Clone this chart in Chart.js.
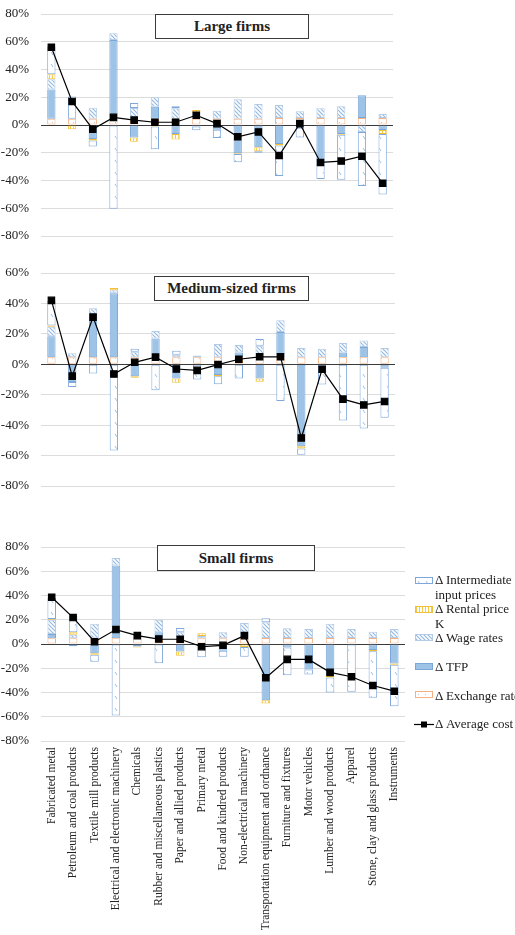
<!DOCTYPE html>
<html>
<head>
<meta charset="utf-8">
<script src="https://cdn.jsdelivr.net/npm/chart.js@4/dist/chart.umd.min.js"></script>
<style>
body { margin: 0; width: 515px; height: 935px; overflow: hidden; background: #fff; position: relative;
       font-family: 'Liberation Serif', 'Times New Roman', serif; color: #222; }
canvas.panel { position: absolute; left: 0; }
.title { position: absolute; border: 1px solid #3a3a3a; background: #fff; box-sizing: border-box;
         font-weight: bold; font-size: 15px; text-align: center; }
.lg-sw { position: absolute; left: 415px; }
.lg-tx { position: absolute; left: 435px; font-size: 13px; line-height: 15px; white-space: nowrap; }
</style>
</head>
<body>
<canvas id="large" class="panel" width="515" height="250" style="top:0px"></canvas>
<canvas id="medium" class="panel" width="515" height="250" style="top:250px"></canvas>
<canvas id="small" class="panel" width="515" height="435" style="top:500px"></canvas>

<div class="title" style="left:155px;top:14px;width:154px;height:25px;line-height:23px">Large firms</div>
<div class="title" style="left:154px;top:276px;width:155px;height:25px;line-height:23px">Medium-sized firms</div>
<div class="title" style="left:157px;top:545px;width:158px;height:26px;line-height:24px">Small firms</div>

<canvas id="sw_interm" class="lg-sw" width="18" height="7" style="top:577px"></canvas>
<div class="lg-tx" style="top:572px">Δ Intermediate<br>input prices</div>
<canvas id="sw_rental" class="lg-sw" width="18" height="7" style="top:606px"></canvas>
<div class="lg-tx" style="top:601px">Δ Rental price<br>K</div>
<canvas id="sw_wage" class="lg-sw" width="18" height="7" style="top:634px"></canvas>
<div class="lg-tx" style="top:630px">Δ Wage rates</div>
<canvas id="sw_tfp" class="lg-sw" width="18" height="7" style="top:663px"></canvas>
<div class="lg-tx" style="top:659px">Δ TFP</div>
<canvas id="sw_exch" class="lg-sw" width="18" height="7" style="top:691px"></canvas>
<div class="lg-tx" style="top:688px">Δ Exchange rate</div>
<canvas id="sw_avg" class="lg-sw" width="20" height="9" style="top:720px;left:414px"></canvas>
<div class="lg-tx" style="top:716px">Δ Average cost</div>

<script>
var industries = ['Fabricated metal', 'Petroleum and coal products', 'Textile mill products',
    'Electrical and electronic machinery', 'Chemicals', 'Rubber and miscellaneous plastics',
    'Paper and allied products', 'Primary metal', 'Food and kindred products',
    'Non-electrical machinery', 'Transportation equipment and ordnance', 'Furniture and fixtures',
    'Motor vehicles', 'Lumber and wood products', 'Apparel', 'Stone, clay and glass products',
    'Instruments'];

// large firms (% change)
var large_exch   = [4.5, 4.5, 4.5, 4.5, 4.5, 4.5, 4.5, 4.5, 4.5, 4.5, 4.5, 5, 5, 5, 5, 5, 5];
var large_tfp    = [21, 0, -10, 56.7, -9, 8.7, -6.5, -1, -3.5, -20.4, -16, -13.7, -2, -28, -6.5, 16.5, -3.6];
var large_wage   = [7.5, 0, 8, 5, 7.7, 6.8, 7.5, 4, 5.8, 14, 10.6, 9.4, 5, 7, 8.6, -5, 3];
var large_rental = [3.5, -3, -1.2, 0, -3, -1, -4, 2.3, 0, -0.5, -3, -1, 0, 0, -0.5, 0, -2.9];
var large_interm = [20, 16, -4.3, -60.4, 3.6, -16.5, 1.5, -2.8, -5.8, -6, -1, -22, -7, -11, -32.5, -39, -43.6];
var large_avg    = [56, 17, -3, 5.5, 3.5, 2, 2, 7, 1, -8.5, -5, -22, 1, -27, -26, -22.5, -42];

// medium-sized firms
var medium_exch   = [4.7, 4.7, 4.7, 4.7, 4.7, 4.7, 4.7, 4.7, 4.7, 4.7, 4.7, 4.7, 4.7, 4.7, 4.7, 4.7, 4.7];
var medium_tfp    = [13.7, -11.6, 28.2, 42, -7.8, 12.2, -9.3, 0, -7.1, 3, -9.3, 16.6, -53.8, 0, 3.1, 6.7, -2.2];
var medium_wage   = [6.3, 2.6, 4, 2, 3.5, 4.9, 1.5, 1.1, 8.6, 4.9, 7.5, 7.6, 6, 5.5, 6.2, 4.2, 6];
var medium_rental = [0.8, 0, 0, 1.5, -1.1, 0, -2.9, 0, -0.7, 0, -2.2, 0, -1.6, 0, 0, 0, 0];
var medium_interm = [16.3, -3.3, -6, -56.6, 2, -17.1, 2.7, -10, -5.3, -9.3, 4.5, -24.2, -4, -13.3, -36.9, -42.2, -33];
var medium_avg    = [42, -7.8, 31, -6.4, 1.3, 4.7, -3.1, -4, -0.2, 3.3, 4.9, 4.9, -48.4, -3.3, -22.9, -26.7, -24.4];

// small firms
var small_exch   = [4.7, 4.7, 4.7, 4.7, 4.7, 4.7, 4.7, 4.7, 4.7, 4.7, 5, 5, 5, 5, 5, 5, 5];
var small_tfp    = [3.6, -1.8, -7.7, 60.1, -2, 5, -6.1, -1, -5.5, 0, -46.3, -2.8, -21, -26.2, 0, -5, -16];
var small_wage   = [11.8, 3, 11.9, 6.1, 5, 10.2, 5.5, 2, 5, 12.7, 12.9, 8, 7.4, 11.6, 7.4, 5.2, 7.4];
var small_rental = [0.5, 2, -1.1, 0, -0.8, 0, -3.5, 2.1, 0, -2.5, -2.8, 0, 0, -1.4, 0, -1, -1.1];
var small_interm = [17.4, 13.9, -5.9, -59, 0, -15.8, 3, -10, -5, -8, 3.3, -22.9, -4.1, -12.4, -39.4, -38.4, -34.2];
var small_avg    = [38.6, 21.8, 1.9, 11.9, 6.9, 4.1, 3.9, -2.2, -1.1, 6.9, -27.9, -12.7, -12.7, -23.4, -27, -34.2, -38.9];

var serif = "'Liberation Serif', 'Times New Roman', serif";

function makePattern(w, h, draw) {
    var c = document.createElement('canvas');
    c.width = w;
    c.height = h;
    var g = c.getContext('2d');
    g.fillStyle = '#ffffff';
    g.fillRect(0, 0, w, h);
    draw(g);
    return g.createPattern(c, 'repeat');
}

var wagePattern = makePattern(4, 4, function (g) {
    g.strokeStyle = '#93b9e2';
    g.lineWidth = 1.2;
    g.beginPath();
    g.moveTo(0, 0); g.lineTo(4, 4);
    g.moveTo(-2, 2); g.lineTo(2, 6);
    g.moveTo(2, -2); g.lineTo(6, 2);
    g.stroke();
});
var intermPattern = makePattern(8, 12, function (g) {
    g.strokeStyle = '#9dc3e6';
    g.lineWidth = 1;
    g.beginPath();
    g.moveTo(3, 4); g.lineTo(5, 7);
    g.stroke();
});
var rentalPattern = makePattern(3, 3, function (g) {
    g.fillStyle = '#f5c842';
    g.fillRect(1, 0, 1, 3);
});
var exchPattern = makePattern(7, 7, function (g) {
    g.fillStyle = '#c8c8c8';
    g.fillRect(3, 3, 1, 1);
});

var styles = {
    exch:   { fill: exchPattern,   border: '#f4b183', label: 'Δ Exchange rate' },
    tfp:    { fill: '#9dc3e6',     border: '#7aa6d8', label: 'Δ TFP' },
    wage:   { fill: wagePattern,   border: '#b4cbe6', label: 'Δ Wage rates' },
    rental: { fill: rentalPattern, border: '#f2c037', label: 'Δ Rental price K' },
    interm: { fill: intermPattern, border: '#7ea7dc', label: 'Δ Intermediate input prices' }
};

function barSet(key, values) {
    return {
        type: 'bar',
        label: styles[key].label,
        data: values,
        backgroundColor: styles[key].fill,
        borderColor: styles[key].border,
        borderWidth: 1,
        borderSkipped: false,
        categoryPercentage: 0.4,
        barPercentage: 1
    };
}

function createChart(id, series, yMin, yMax, padTop, padRight, padBottom, showLabels) {
    var ctx = document.getElementById(id).getContext('2d');
    var xScale = {
        display: showLabels,
        stacked: true,
        grid: { display: false, drawTicks: false },
        border: { display: false },
        ticks: {
            autoSkip: false,
            maxRotation: 90,
            minRotation: 90,
            padding: 6,
            color: '#222',
            font: { family: serif, size: 11.5 }
        }
    };
    if (showLabels) {
        xScale.afterFit = function (scale) { scale.height = 194; };
    }
    return new Chart(ctx, {
        data: {
            labels: industries,
            datasets: [
                barSet('exch', series.exch),
                barSet('tfp', series.tfp),
                barSet('wage', series.wage),
                barSet('rental', series.rental),
                barSet('interm', series.interm),
                {
                    type: 'line',
                    label: 'Δ Average cost',
                    data: series.avg,
                    stack: 'avg',
                    order: -1,
                    borderColor: '#000000',
                    borderWidth: 1.2,
                    pointStyle: 'rect',
                    pointRadius: 4.5,
                    pointBackgroundColor: '#000000',
                    pointBorderColor: '#000000',
                    tension: 0
                }
            ]
        },
        options: {
            responsive: false,
            animation: false,
            events: [],
            layout: { padding: { top: padTop, right: padRight, bottom: padBottom, left: 0 } },
            scales: {
                x: xScale,
                y: {
                    stacked: true,
                    min: yMin,
                    max: yMax,
                    grid: {
                        drawTicks: true,
                        tickLength: 12,
                        tickColor: 'rgba(0,0,0,0)',
                        color: function (c) { return c.tick.value === 0 ? '#3a3a3a' : '#dcdcdc'; }
                    },
                    border: { display: false },
                    ticks: {
                        stepSize: 20,
                        padding: 0,
                        color: '#222',
                        font: { family: serif, size: 13 },
                        callback: function (v) { return v + '%'; }
                    },
                    afterFit: function (scale) { scale.width = 41; }
                }
            },
            plugins: {
                legend: { display: false },
                tooltip: { enabled: false }
            }
        }
    });
}

createChart('large', { exch: large_exch, tfp: large_tfp, wage: large_wage, rental: large_rental,
    interm: large_interm, avg: large_avg }, -80, 80, 14, 122, 14, false);
createChart('medium', { exch: medium_exch, tfp: medium_tfp, wage: medium_wage, rental: medium_rental,
    interm: medium_interm, avg: medium_avg }, -80, 60, 23, 120, 14, false);
createChart('small', { exch: small_exch, tfp: small_tfp, wage: small_wage, rental: small_rental,
    interm: small_interm, avg: small_avg }, -80, 80, 47, 110, 0, true);

// legend swatches
function swatch(id, key) {
    var g = document.getElementById(id).getContext('2d');
    g.fillStyle = styles[key].fill;
    g.fillRect(0, 0, 18, 7);
    g.strokeStyle = styles[key].border;
    g.lineWidth = 1;
    g.strokeRect(0.5, 0.5, 17, 6);
}
swatch('sw_interm', 'interm');
swatch('sw_rental', 'rental');
swatch('sw_wage', 'wage');
swatch('sw_tfp', 'tfp');
swatch('sw_exch', 'exch');

var ga = document.getElementById('sw_avg').getContext('2d');
ga.strokeStyle = '#000';
ga.lineWidth = 1.2;
ga.beginPath();
ga.moveTo(0, 4.5);
ga.lineTo(20, 4.5);
ga.stroke();
ga.fillStyle = '#000';
ga.fillRect(7, 1.5, 6, 6);
</script>
</body>
</html>
